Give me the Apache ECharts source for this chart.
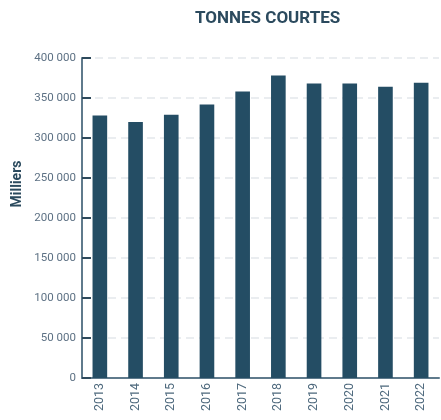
<!DOCTYPE html>
<html><head><meta charset="utf-8">
<script src="https://cdn.jsdelivr.net/npm/echarts@6/dist/echarts.min.js"></script>
<style>html,body{margin:0;padding:0;background:#fff}#c{width:441px;height:420px}</style>
</head><body><div id="c"></div>
<script>
const years = ['2013','2014','2015','2016','2017','2018','2019','2020','2021','2022'];
const values = [328000, 320000, 329000, 342000, 358000, 378000, 368000, 368000, 364000, 369000];
const yTicks = [0, 50000, 100000, 150000, 200000, 250000, 300000, 350000, 400000];
const titleText = 'TONNES COURTES';
const yName = 'Milliers';

const fmt = v => String(v).replace(/\B(?=(\d{3})+(?!\d))/g, ' ');
const chart = echarts.init(document.getElementById('c'), null, {renderer:'canvas'});
chart.setOption({
  animation:false,
  title:{text:titleText, left:190, top:5, textStyle:{fontFamily:'Roboto', fontWeight:'bold', fontSize:17, color:'#2b4a5e'}},
  grid:{left:82, right:2, top:58, bottom:42, containLabel:false},
  graphic:[{type:'text', x:17, y:184, rotation:Math.PI/2,
    style:{text:yName, font:'bold 14px Roboto', fill:'#2b4a5e', align:'center', verticalAlign:'middle'}}],
  xAxis:{type:'category', data:years,
    axisLine:{lineStyle:{color:'#5f7a8c', width:2}},
    axisTick:{inside:true, length:8, lineStyle:{color:'#2e4a5c', width:1.5}},
    axisLabel:{rotate:90, margin:5, fontFamily:'Roboto', fontSize:12.5, color:'#4f6a7e'}},
  yAxis:{type:'value', min:yTicks[0], max:yTicks[yTicks.length-1], interval:yTicks[1]-yTicks[0],
    axisLine:{show:true, lineStyle:{color:'#5f7a8c', width:2}},
    axisTick:{show:true, inside:true, length:9, lineStyle:{color:'#2e4a5c', width:2}},
    axisLabel:{margin:6, fontFamily:'Roboto', fontSize:11.5, color:'#5d7184', formatter:fmt},
    splitLine:{show:true, lineStyle:{color:'#e3e8eb', type:[8,5], width:1.5}}},
  series:[{type:'bar', data:values, barWidth:'41%', itemStyle:{color:'#244d64'}}]
});
</script></body></html>
